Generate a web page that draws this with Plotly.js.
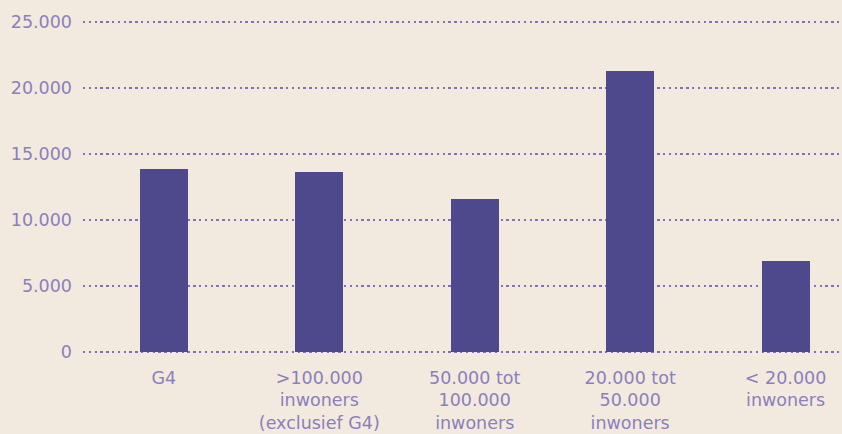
<!DOCTYPE html>
<html><head><meta charset="utf-8">
<script src="https://cdn.plot.ly/plotly-3.0.1.min.js"></script>
<style>html,body{margin:0;padding:0;background:#F2EADF;}</style>
</head><body>
<div id="chart" style="width:842px;height:434px;"></div>
<script>
const categories = ["G4", ">100.000<br>inwoners<br>(exclusief G4)", "50.000 tot<br>100.000<br>inwoners", "20.000 tot<br>50.000<br>inwoners", "< 20.000<br>inwoners"];
const values = [13900, 13600, 11600, 21300, 6900];
const yTicks = [0, 5000, 10000, 15000, 20000, 25000];

const textColor = "#8A80BC";
const gridColor = "#7E73B8";
const fontFam = "DejaVu Sans, sans-serif";
Plotly.newPlot("chart", [{
  type: "bar",
  x: [0,1,2,3,4],
  y: values,
  width: 0.31,
  marker: {color: "#4E488C"},
  hoverinfo: "skip"
}], {
  width: 842, height: 434,
  paper_bgcolor: "#F2EADF", plot_bgcolor: "#F2EADF",
  separators: ",.",
  margin: {l: 83, r: 2, t: 20, b: 80},
  showlegend: false,
  bargap: 0,
  font: {family: fontFam, color: textColor, size: 17.5},
  xaxis: {
    range: [-0.52, 4.35],
    tickmode: "array", tickvals: [0,1,2,3,4], ticktext: categories,
    showgrid: false, zeroline: false, showline: false, ticks: "",
    ticklabelstandoff: 11,
    tickfont: {family: fontFam, size: 17.5, color: textColor},
    fixedrange: true
  },
  yaxis: {
    range: [-150, 25150],
    tickmode: "array", tickvals: yTicks,
    tickformat: ",d",
    showgrid: true, gridcolor: gridColor, gridwidth: 2.4, griddash: "2.4px,3.4px",
    zeroline: false, showline: false, ticks: "",
    ticklabelstandoff: 10,
    tickfont: {family: fontFam, size: 17.5, color: textColor},
    fixedrange: true
  }
}, {staticPlot: true, displayModeBar: false});
</script>
</body></html>
